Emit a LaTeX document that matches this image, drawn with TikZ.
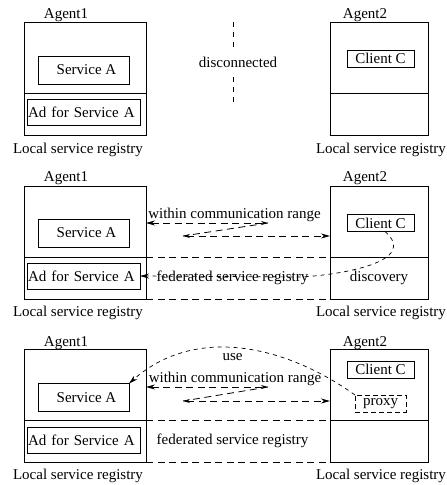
\documentclass[tikz,border=0pt]{standalone}
\usepackage{fontspec}
\setmainfont{Liberation Serif}
\newfontfamily\tms{Liberation Serif}
\usetikzlibrary{arrows.meta}
\begin{document}
\begin{tikzpicture}[x=1pt,y=-1pt,
  every node/.style={font=\tms\fontsize{15}{18}\selectfont},
  part/.style={draw, line width=0.8pt, inner sep=0pt, outer sep=0pt},
  inbox/.style={draw, line width=0.8pt, inner sep=0pt, outer sep=0pt},
  proxybox/.style={draw, line width=0.8pt, dash pattern=on 5pt off 3pt, inner sep=0pt, outer sep=0pt},
  lbl/.style={inner sep=0pt},
  dl/.style={line width=0.8pt, dash pattern=on 7pt off 4.5pt},
  dc/.style={line width=0.7pt, dash pattern=on 4pt off 4pt},
  dv/.style={line width=0.8pt, dash pattern=on 5pt off 5pt},
  tip/.style={-{Stealth[length=9pt,width=5pt]}},
  tips/.style={{Stealth[length=9pt,width=5pt]}-{Stealth[length=7pt,width=4pt]}},
  tipr/.style={{Stealth[length=7pt,width=4pt]}-{Stealth[length=9pt,width=5pt]}},
]
\useasboundingbox (0,0) rectangle (447,485);

% ---------------- Panel 1 ----------------
\node[part, minimum width=122pt, minimum height=71pt, anchor=north west] (p1a1t) at (24,22) {};
\node[part, minimum width=122pt, minimum height=42pt, anchor=north] (p1a1b) at (p1a1t.south) {};
\node[inbox, minimum width=91pt, minimum height=28pt] (p1sa) at (83.5,70) {\hspace{6pt}Service A};
\node[inbox, text width=111pt, inner xsep=1pt, minimum height=26pt, align=left] (p1ad) at (83.5,112) {Ad for Service A};
\node[part, minimum width=98pt, minimum height=71pt, anchor=north west] (p1a2t) at (330,22) {};
\node[part, minimum width=98pt, minimum height=42pt, anchor=north] (p1a2b) at (p1a2t.south) {};
\node[inbox, minimum width=67pt, minimum height=17pt] (p1cc) at (380.5,58.5) {Client C};
\node[lbl] (p1l1) at (66,15.5) {Agent1};
\node[lbl] (p1l2) at (365,15.5) {Agent2};
\node[lbl] (p1r1) at (78,149.5) {Local service registry};
\node[lbl] (p1r2) at (381,149.5) {Local service registry};
\node[lbl] (disc) at (238,62) {disconnected};
\coordinate (d1) at (233,22);
\coordinate (d2) at (233,48);
\coordinate (d3) at (233,77);
\coordinate (d4) at (233,103);
\draw[dv] (d1) -- (d2);
\draw[dv] (d3) -- (d4);

% ---------------- Panel 2 ----------------
\node[part, minimum width=122pt, minimum height=71pt, anchor=north west] (p2a1t) at (24,186) {};
\node[part, minimum width=122pt, minimum height=42pt, anchor=north] (p2a1b) at (p2a1t.south) {};
\node[inbox, minimum width=91pt, minimum height=28pt] (p2sa) at (83.5,233) {\hspace{6pt}Service A};
\node[inbox, text width=111pt, inner xsep=1pt, minimum height=26pt, align=left] (p2ad) at (83.5,276) {Ad for Service A};
\node[part, minimum width=98pt, minimum height=71pt, anchor=north west] (p2a2t) at (330,186) {};
\node[part, minimum width=98pt, minimum height=42pt, anchor=north] (p2a2b) at (p2a2t.south) {};
\node[inbox, minimum width=67pt, minimum height=17pt] (p2cc) at (380.5,223) {Client C};
\node[lbl] (p2disc) at (p2a2b.center) {discovery};
\node[lbl] (p2l1) at (66,178.5) {Agent1};
\node[lbl] (p2l2) at (365,178.5) {Agent2};
\node[lbl] (p2r1) at (78,312.5) {Local service registry};
\node[lbl] (p2r2) at (381,312.5) {Local service registry};
\node[lbl] (p2wc) at (234.5,215) {within communication range};
\node[lbl] (p2fed) at (232.5,277.5) {federated service registry};
\coordinate (p2u) at (268,223);
\coordinate (p2l) at (183,236);
\draw[dl, tips] (p2a1t.east |- p2u) -- (p2u);
\draw[dl] (p2u) -- (p2l);
\draw[dl, tipr] (p2l) -- (p2a2t.west |- p2l);
\draw[dl] (p2a1b.north east) -- (p2a2b.north west);
\draw[dl] (p2a1b.south east) -- (p2a2b.south west);
\draw[dc, tip] ([xshift=4.5pt]p2cc.south) .. controls (420,262) and (340,275) .. (300,277) -- (p2ad.east);

% ---------------- Panel 3 ----------------
\node[part, minimum width=122pt, minimum height=71pt, anchor=north west] (p3a1t) at (24,349) {};
\node[part, minimum width=122pt, minimum height=42pt, anchor=north] (p3a1b) at (p3a1t.south) {};
\node[inbox, minimum width=91pt, minimum height=28pt] (p3sa) at (83.5,397.5) {\hspace{6pt}Service A};
\node[inbox, text width=111pt, inner xsep=1pt, minimum height=26pt, align=left] (p3ad) at (83.5,440) {Ad for Service A};
\node[part, minimum width=98pt, minimum height=71pt, anchor=north west] (p3a2t) at (330,349) {};
\node[part, minimum width=98pt, minimum height=42pt, anchor=north] (p3a2b) at (p3a2t.south) {};
\node[inbox, minimum width=67pt, minimum height=17pt] (p3cc) at (380.5,369.5) {Client C};
\node[proxybox, minimum width=51pt, minimum height=17pt] (p3px) at (380.5,403.5) {proxy};
\node[lbl] (p3l1) at (66,343) {Agent1};
\node[lbl] (p3l2) at (365,343) {Agent2};
\node[lbl] (p3r1) at (78,476) {Local service registry};
\node[lbl] (p3r2) at (381,476) {Local service registry};
\node[lbl] (p3wc) at (235,379) {within communication range};
\node[lbl] (p3use) at (232.5,357) {use};
\node[lbl] (p3fed) at (232.5,441) {federated service registry};
\coordinate (p3u) at (268,387);
\coordinate (p3l) at (183,401);
\draw[dl, tips] (p3a1t.east |- p3u) -- (p3u);
\draw[dl] (p3u) -- (p3l);
\draw[dl, tipr] (p3l) -- (p3a2t.west |- p3l);
\draw[dl] (p3a1b.north east) -- (p3a2b.north west);
\draw[dl] (p3a1b.south east) -- (p3a2b.south west);
\draw[dc, tip] (p3px.north west) .. controls (285,345) and (195,325) .. (p3sa.north east);
\end{tikzpicture}
\end{document}
